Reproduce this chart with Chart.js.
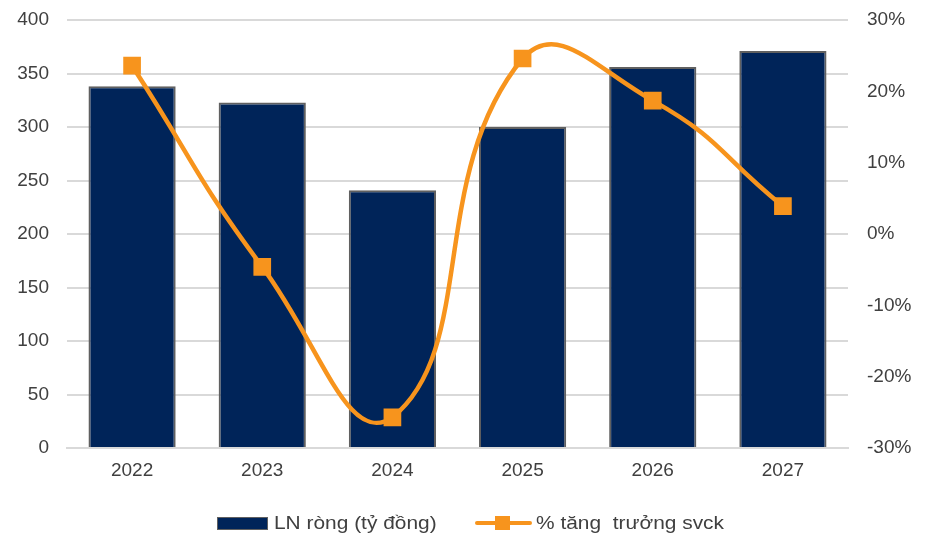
<!DOCTYPE html>
<html>
<head>
<meta charset="utf-8">
<script src="https://cdn.jsdelivr.net/npm/chart.js@4"></script>
<style>
  html, body { margin: 0; padding: 0; background: #fff; }
  #wrap { position: relative; width: 933px; height: 543px; }
  canvas { display: block; }
  .legend { position: absolute; top: 509px; left: 0; width: 933px; height: 28px;
            font-family: "Liberation Sans", Arial, sans-serif; font-size: 19px; color: #404040; }
  .item { position: absolute; top: 0; display: flex; align-items: center; height: 28px; white-space: pre; }
  .txt { display: inline-block; transform: scaleX(1.1); transform-origin: left center; }
  .box { width: 49px; height: 11px; background: #002459; border: 1px solid #606060; margin-right: 6px; }
  .ln { position: relative; width: 57px; height: 28px; margin-right: 4px; }
  .ln::before { content: ""; position: absolute; left: 0; right: 0; top: 12px; height: 4px; background: #F7941D; border-radius: 2px; }
  .ln::after { content: ""; position: absolute; left: 20px; top: 7px; width: 15px; height: 14px; background: #F7941D; }
</style>
</head>
<body>
<div id="wrap">
  <canvas id="c" width="933" height="543"></canvas>
  <div class="legend">
    <div class="item" style="left:217px"><span class="box"></span><span class="txt" id="lab0"></span></div>
    <div class="item" style="left:475px"><span class="ln"></span><span class="txt" id="lab1"></span></div>
  </div>
</div>
<script>
// Years shown on the category axis
const years = ['2022', '2023', '2024', '2025', '2026', '2027'];
// Net profit, billion VND
const netProfit = [338, 323, 241, 300, 356, 371];
// Year-on-year growth, %
const growth = [23.6, -4.6, -25.7, 24.6, 18.7, 3.9];
// Series names
const seriesNames = ['LN ròng (tỷ đồng)', '% tăng  trưởng svck'];

document.getElementById('lab0').textContent = seriesNames[0];
document.getElementById('lab1').textContent = seriesNames[1];

const tickFont = { family: '"Liberation Sans", Arial, sans-serif', size: 19 };
const tickColor = '#404040';

// Fixed axis sizes so the plot area sits at a known place
const fitY = w => s => { s.width = w; s.paddingTop = 0; s.paddingBottom = 0; };

new Chart(document.getElementById('c'), {
  data: {
    labels: years,
    datasets: [
      {
        type: 'line',
        label: seriesNames[1],
        data: growth,
        yAxisID: 'y1',
        borderColor: '#F7941D',
        backgroundColor: '#F7941D',
        borderWidth: 4.5,
        tension: 0.5,
        pointStyle: 'rect',
        pointRadius: 12.5,
        pointBorderWidth: 0,
        order: 0
      },
      {
        type: 'bar',
        label: seriesNames[0],
        data: netProfit,
        yAxisID: 'y',
        backgroundColor: '#002459',
        borderColor: '#606060',
        borderWidth: 2,
        barPercentage: 0.67,
        categoryPercentage: 1.0,
        order: 1
      }
    ]
  },
  options: {
    responsive: false,
    animation: false,
    layout: { padding: { top: 20, bottom: 55, left: 0, right: 0 } },
    plugins: { legend: { display: false }, tooltip: { enabled: false } },
    scales: {
      x: {
        offset: true,
        grid: { display: false, drawTicks: false },
        border: { display: true, color: '#d9d9d9', width: 2 },
        ticks: { font: tickFont, color: tickColor, padding: 11 },
        afterFit: s => { s.height = 40; s.paddingLeft = 0; s.paddingRight = 0; }
      },
      y: {
        position: 'left',
        min: 0, max: 400,
        ticks: { stepSize: 50, font: tickFont, color: tickColor, padding: 18 },
        grid: { color: '#d9d9d9', lineWidth: 2, drawTicks: false },
        border: { display: false },
        afterFit: fitY(67)
      },
      y1: {
        position: 'right',
        min: -30, max: 30,
        ticks: { stepSize: 10, font: tickFont, color: tickColor, padding: 19,
                 callback: v => v + '%' },
        grid: { display: false, drawTicks: false },
        border: { display: false },
        afterFit: fitY(85)
      }
    }
  }
});
</script>
</body>
</html>
